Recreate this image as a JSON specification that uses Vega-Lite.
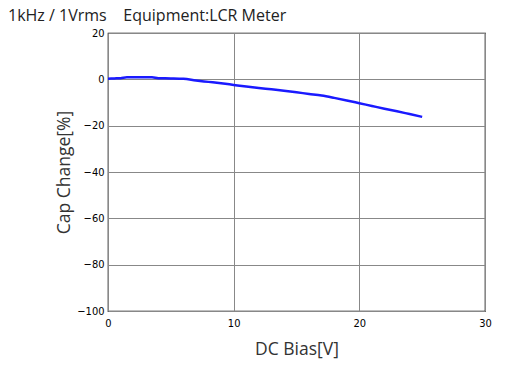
{
  "$schema": "https://vega.github.io/schema/vega-lite/v6.json",
  "width": 377,
  "height": 278,
  "autosize": "none",
  "padding": {"left": 108, "top": 33, "right": 27, "bottom": 61},
  "background": "white",
  "title": {
    "text": "1kHz / 1Vrms\u00a0\u00a0\u00a0\u00a0Equipment:LCR Meter",
    "anchor": "start",
    "frame": "group",
    "dx": -100,
    "offset": 3,
    "font": "Open Sans",
    "fontSize": 16,
    "fontWeight": "normal",
    "color": "#222222"
  },
  "config": {
    "view": {"stroke": "black", "strokeWidth": 1.2},
    "axis": {
      "labelFont": "Liberation Sans Narrow, DejaVu Sans Condensed, sans-serif",
      "labelFontSize": 11,
      "labelColor": "#000000",
      "titleFont": "Open Sans",
      "titleFontSize": 17.5,
      "titleFontWeight": "normal",
      "titleColor": "#333333",
      "gridColor": "#888888",
      "gridOpacity": 1,
      "gridWidth": 1,
      "ticks": false,
      "domain": false
    }
  },
  "data": {
    "values": [
      {"v": 0, "c": 0.3},
      {"v": 0.5, "c": 0.4},
      {"v": 1, "c": 0.5},
      {"v": 1.5, "c": 0.9},
      {"v": 2, "c": 0.9},
      {"v": 3, "c": 0.9},
      {"v": 3.5, "c": 0.9},
      {"v": 4, "c": 0.5},
      {"v": 5, "c": 0.4},
      {"v": 6, "c": 0.2},
      {"v": 7, "c": -0.5},
      {"v": 8, "c": -1.1},
      {"v": 9, "c": -1.7},
      {"v": 10, "c": -2.4},
      {"v": 11, "c": -3.1},
      {"v": 12, "c": -3.7},
      {"v": 13, "c": -4.3},
      {"v": 14, "c": -4.9},
      {"v": 15, "c": -5.6},
      {"v": 16, "c": -6.3},
      {"v": 17, "c": -7.0},
      {"v": 18, "c": -8.0},
      {"v": 19, "c": -9.1},
      {"v": 20, "c": -10.3},
      {"v": 21, "c": -11.5},
      {"v": 22, "c": -12.7},
      {"v": 23, "c": -13.8},
      {"v": 24, "c": -15.0},
      {"v": 25, "c": -16.2}
    ]
  },
  "mark": {"type": "line", "color": "#1a1aff", "strokeWidth": 2.5, "interpolate": "monotone"},
  "encoding": {
    "x": {
      "field": "v",
      "type": "quantitative",
      "title": "DC Bias[V]",
      "scale": {"domain": [0, 30], "nice": false, "zero": false},
      "axis": {"values": [0, 10, 20, 30], "labelPadding": 6, "titlePadding": 12, "labelFlush": false}
    },
    "y": {
      "field": "c",
      "type": "quantitative",
      "title": "Cap Change[%]",
      "scale": {"domain": [-100, 20], "nice": false},
      "axis": {"values": [-100, -80, -60, -40, -20, 0, 20], "labelPadding": 4, "titlePadding": 3, "labelFlush": false}
    }
  }
}
